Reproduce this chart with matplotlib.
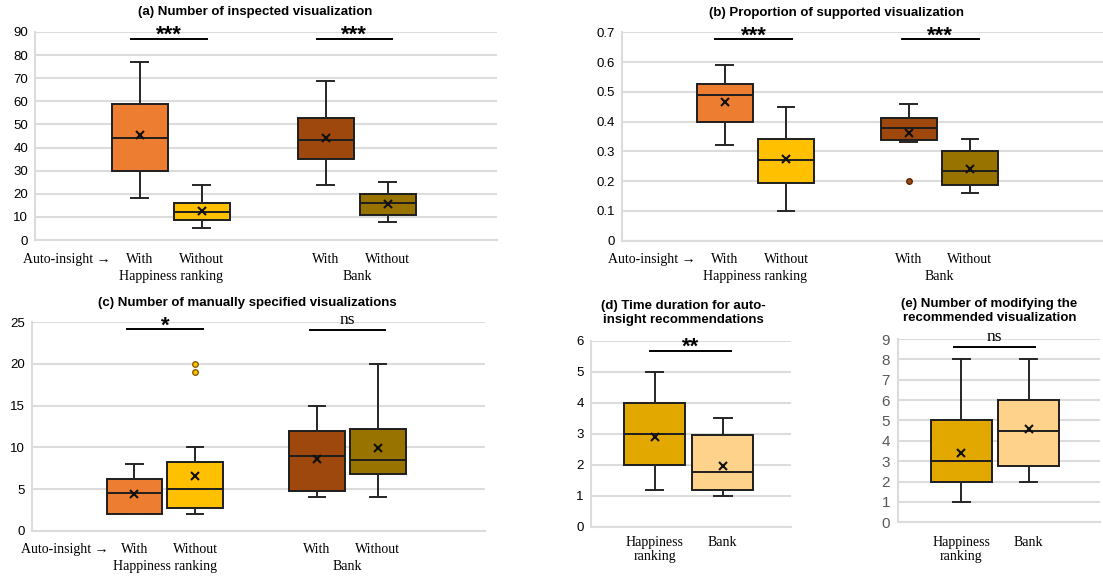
import matplotlib
matplotlib.use("Agg")
import matplotlib.pyplot as plt

# ---------------- data ----------------
# (a) Number of inspected visualization  (HR-With, HR-Without, Bank-With, Bank-Without)
a_whislo = [18, 5, 24, 8]
a_q1 = [29.7, 8.6, 35.2, 11]
a_med = [44, 12.2, 43.4, 16]
a_q3 = [59, 16.1, 52.7, 20]
a_whishi = [77, 24, 69, 25]
a_mean = [45.5, 12.7, 44.2, 15.4]
a_fliers = [[], [], [], []]
a_sig = ["***", "***"]

# (b) Proportion of supported visualization
b_whislo = [0.32, 0.10, 0.33, 0.16]
b_q1 = [0.40, 0.195, 0.337, 0.186]
b_med = [0.49, 0.27, 0.38, 0.234]
b_q3 = [0.525, 0.34, 0.412, 0.30]
b_whishi = [0.59, 0.45, 0.46, 0.34]
b_mean = [0.465, 0.274, 0.361, 0.242]
b_fliers = [[], [], [0.20], []]
b_sig = ["***", "***"]

# (c) Number of manually specified visualizations
c_whislo = [2, 2, 4, 4]
c_q1 = [2, 2.7, 4.75, 6.75]
c_med = [4.5, 5, 9, 8.5]
c_q3 = [6.25, 8.2, 12, 12.25]
c_whishi = [8, 10, 15, 20]
c_mean = [4.45, 6.56, 8.6, 9.88]
c_fliers = [[], [19, 20], [], []]
c_sig = ["*", "ns"]

# (d) Time duration for auto-insight recommendations (Happiness ranking, Bank)
d_whislo = [1.2, 1.0]
d_q1 = [2.0, 1.2]
d_med = [3.0, 1.75]
d_q3 = [4.0, 2.95]
d_whishi = [5.0, 3.5]
d_mean = [2.9, 1.95]
d_fliers = [[], []]
d_sig = ["**"]

# (e) Number of modifying the recommended visualization
e_whislo = [1, 2]
e_q1 = [2, 2.75]
e_med = [3, 4.5]
e_q3 = [5, 6]
e_whishi = [8, 8]
e_mean = [3.4, 4.57]
e_fliers = [[], []]
e_sig = ["ns"]

cond_labels = ["With", "Without", "With", "Without"]
group_labels = ["Happiness ranking", "Bank"]
axis_prefix = "Auto-insight \u2192"
dataset_labels = ["Happiness\nranking", "Bank"]

titles = [
    "(a) Number of inspected visualization",
    "(b) Proportion of supported visualization",
    "(c) Number of manually specified visualizations",
    "(d) Time duration for auto-\ninsight recommendations",
    "(e) Number of modifying the\nrecommended visualization",
]

col4 = ["#ED7D31", "#FFC000", "#9E480E", "#997300"]
flier_edge4 = ["#7a3a10", "#8a6000", "#5a2808", "#5a4400"]
col2 = ["#E2A800", "#FFD28C"]
flier_edge2 = ["#7a5a00", "#a07030"]

SANS = ["Liberation Sans", "DejaVu Sans"]
SERIF = ["Liberation Serif", "DejaVu Serif"]
GRID = "#DCDCDC"

W, H = 1103, 576
fig = plt.figure(figsize=(W / 100, H / 100), dpi=100)


def rect(l, r, t, b):
    return [l / W, 1 - b / H, (r - l) / W, (b - t) / H]


def draw(ax, pos, whislo, q1, med, q3, whishi, mean, fliers, colors, fedges, width, capw):
    stats = []
    for i in range(len(pos)):
        stats.append(dict(whislo=whislo[i], q1=q1[i], med=med[i], q3=q3[i],
                          whishi=whishi[i], mean=mean[i], fliers=fliers[i]))
    bp = ax.bxp(stats, positions=pos, widths=width, capwidths=capw,
                patch_artist=True, showmeans=True, showfliers=True,
                manage_ticks=False,
                boxprops=dict(edgecolor="#1e1e1e", linewidth=1.4),
                whiskerprops=dict(color="#262626", linewidth=1.4),
                capprops=dict(color="#262626", linewidth=1.4),
                medianprops=dict(color="#1e1e1e", linewidth=1.4),
                meanprops=dict(marker="x", markeredgecolor="#111111",
                               markersize=5.5, markeredgewidth=1.5),
                zorder=3)
    for i, b in enumerate(bp["boxes"]):
        b.set_facecolor(colors[i])
    for i, f in enumerate(bp["fliers"]):
        f.set(marker="o", markersize=4, markerfacecolor=colors[i],
              markeredgecolor=fedges[i], markeredgewidth=1.0, linestyle="none")
    return bp


def style(ax, yticks, ylim, xlim, ylabelfmt, ycolor="black", ysize=9.5, ypad=5):
    ax.set_ylim(*ylim)
    ax.set_xlim(*xlim)
    ax.set_yticks(yticks)
    ax.set_yticklabels([ylabelfmt(v) for v in yticks], family=SANS,
                       fontsize=ysize, color=ycolor)
    ax.tick_params(axis="both", length=0)
    ax.tick_params(axis="y", pad=ypad)
    ax.grid(axis="y", color=GRID, linewidth=1.5, zorder=0)
    ax.set_axisbelow(True)
    for s in ["top", "right"]:
        ax.spines[s].set_visible(False)
    for s in ["left", "bottom"]:
        ax.spines[s].set_color(GRID)
        ax.spines[s].set_linewidth(1.5)


def sig(ax, x0, x1, y, label, serif=False):
    ax.plot([x0, x1], [y, y], color="black", linewidth=1.4, clip_on=False, zorder=4)
    if serif:
        ax.annotate(label, xy=((x0 + x1) / 2, y), xytext=(0, 4.5),
                    textcoords="offset points", ha="center", va="baseline",
                    family=SERIF, fontsize=12.5, annotation_clip=False)
    else:
        ax.annotate(label, xy=((x0 + x1) / 2, y), xytext=(0, -1.5),
                    textcoords="offset points", ha="center", va="baseline",
                    family=SANS, fontsize=16, fontweight="bold",
                    annotation_clip=False)


def xlabels4(ax, prefix_x):
    ax.set_xticks([prefix_x, 1, 2, 4, 5])
    ax.set_xticklabels([axis_prefix] + cond_labels, family=SERIF, fontsize=10)
    ax.tick_params(axis="x", pad=9)
    for lbl, gx in zip(group_labels, [1.5, 4.5]):
        ax.annotate(lbl, xy=(gx, 0), xycoords=("data", "axes fraction"),
                    xytext=(0, -26), textcoords="offset points",
                    ha="center", va="center", family=SERIF, fontsize=10)


def fmt_int(v):
    return f"{v:g}"


pos4 = [1, 2, 4, 5]
pos2 = [1, 2]

# (a)
ax = fig.add_axes(rect(35, 497, 32, 240))
draw(ax, pos4, a_whislo, a_q1, a_med, a_q3, a_whishi, a_mean, a_fliers, col4, flier_edge4, 0.9, 0.27)
style(ax, list(range(0, 91, 10)), (0, 90), (-0.69, 6.76), fmt_int)
xlabels4(ax, -0.18)
sig(ax, 0.85, 2.08, 87, a_sig[0])
sig(ax, 3.85, 5.07, 87, a_sig[1])
ax.set_title(titles[0], x=0.476, pad=12, fontsize=9.5, fontweight="bold", family=SANS)

# (b)
ax = fig.add_axes(rect(621.7, 1103, 32.3, 240.7))
draw(ax, pos4, b_whislo, b_q1, b_med, b_q3, b_whishi, b_mean, b_fliers, col4, flier_edge4, 0.91, 0.27)
style(ax, [0, 0.1, 0.2, 0.3, 0.4, 0.5, 0.6, 0.7], (0, 0.7), (-0.68, 7.17), fmt_int)
xlabels4(ax, -0.19)
sig(ax, 0.84, 2.10, 0.677, b_sig[0])
sig(ax, 3.89, 5.14, 0.677, b_sig[1])
ax.set_title(titles[1], x=0.447, pad=12, fontsize=9.5, fontweight="bold", family=SANS)

# (c)
ax = fig.add_axes(rect(31.7, 485, 322.3, 530.7))
draw(ax, pos4, c_whislo, c_q1, c_med, c_q3, c_whishi, c_mean, c_fliers, col4, flier_edge4, 0.91, 0.27)
style(ax, [0, 5, 10, 15, 20, 25], (0, 25), (-0.685, 6.76), fmt_int)
xlabels4(ax, -0.14)
sig(ax, 0.88, 2.13, 24.15, c_sig[0])
sig(ax, 3.88, 5.11, 24.1, c_sig[1], serif=True)
ax.set_title(titles[2], x=0.476, pad=12, fontsize=9.5, fontweight="bold", family=SANS)

# (d)
ax = fig.add_axes(rect(590.7, 790.7, 340.7, 526.7))
draw(ax, pos2, d_whislo, d_q1, d_med, d_q3, d_whishi, d_mean, d_fliers, col2, flier_edge2, 0.9, 0.26)
style(ax, list(range(0, 7)), (0, 6), (0.06, 3.0), fmt_int)
ax.set_xticks(pos2)
ax.set_xticklabels(dataset_labels, family=SERIF, fontsize=10, linespacing=1.1)
ax.tick_params(axis="x", pad=7)
sig(ax, 0.93, 2.12, 5.68, d_sig[0])
ax.set_title(titles[3], x=0.463, pad=13, fontsize=9.5, fontweight="bold", family=SANS,
             linespacing=1.2)

# (e)
ax = fig.add_axes(rect(898.3, 1100, 339, 522.3))
draw(ax, pos2, e_whislo, e_q1, e_med, e_q3, e_whishi, e_mean, e_fliers, col2, flier_edge2, 0.91, 0.26)
style(ax, list(range(0, 10)), (0, 9), (0.065, 3.06), fmt_int, ycolor="#595959", ysize=11, ypad=6)
ax.set_xticks(pos2)
ax.set_xticklabels(dataset_labels, family=SERIF, fontsize=10, linespacing=1.1)
ax.tick_params(axis="x", pad=10)
sig(ax, 0.89, 2.09, 8.6, e_sig[0], serif=True)
ax.set_title(titles[4], x=0.451, pad=13, fontsize=9.5, fontweight="bold", family=SANS,
             linespacing=1.2)

fig.savefig("out.png", dpi=100)
